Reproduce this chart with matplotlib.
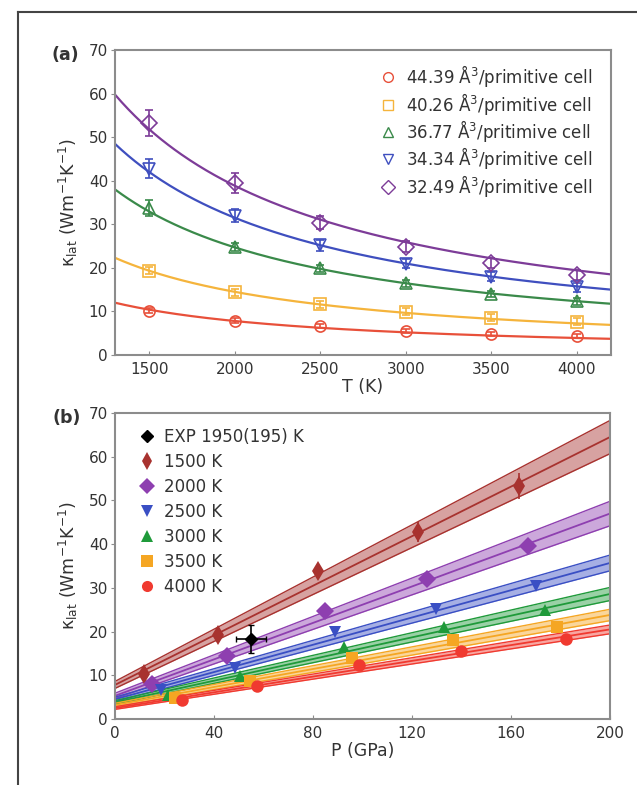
import numpy as np
import matplotlib
matplotlib.use("Agg")
import matplotlib.pyplot as plt
from matplotlib.lines import Line2D

plt.rcParams['font.family'] = ['DejaVu Sans']
plt.rcParams['mathtext.default'] = 'regular'

# ---------------- data: panel (a) ----------------
T = [1500, 2000, 2500, 3000, 3500, 4000]
vol_labels = ["44.39 Å$^3$/primitive cell", "40.26 Å$^3$/primitive cell",
              "36.77 Å$^3$/pritimive cell", "34.34 Å$^3$/primitive cell",
              "32.49 Å$^3$/primitive cell"]
kappa_v1 = [10.2, 7.9, 6.6, 5.5, 4.8, 4.3]
kappa_v2 = [19.3, 14.4, 11.7, 9.9, 8.6, 7.6]
kappa_v3 = [33.8, 24.8, 19.9, 16.5, 14.0, 12.3]
kappa_v4 = [42.8, 32.0, 25.2, 21.0, 18.0, 15.5]
kappa_v5 = [53.3, 39.5, 30.4, 24.9, 21.1, 18.4]
err_v1 = [0.5, 0.5, 0.5, 0.5, 0.5, 0.5]
err_v2 = [0.8, 0.8, 0.8, 0.8, 0.8, 0.8]
err_v3 = [1.8, 1.0, 0.8, 0.8, 0.8, 0.8]
err_v4 = [2.2, 1.5, 1.3, 1.0, 1.0, 1.0]
err_v5 = [3.0, 2.3, 1.5, 1.2, 1.2, 1.2]
# fitted kappa*T constants (kappa = A/T)
fit_A = [15600, 29000, 49400, 63000, 77700]

# ---------------- data: panel (b) ----------------
temp_labels = ["1500 K", "2000 K", "2500 K", "3000 K", "3500 K", "4000 K"]
P_1500 = [11.6, 41.7, 81.9, 122.3, 163.4]
P_2000 = [15.1, 45.1, 84.9, 126.2, 166.8]
P_2500 = [18.5, 48.6, 88.8, 129.7, 170.2]
P_3000 = [21.6, 50.7, 92.4, 132.8, 173.7]
P_3500 = [24.3, 54.4, 95.7, 136.7, 178.4]
P_4000 = [27.0, 57.4, 98.5, 139.8, 182.3]
# linear fits: kappa at P=0 and P=200, band half-widths at P=0 and P=200
fit_k0 = [7.8, 5.3, 4.5, 3.8, 3.2, 2.5]
fit_k200 = [64.5, 47.0, 35.7, 28.6, 23.8, 20.5]
band_0 = [0.8, 0.6, 0.5, 0.4, 0.4, 0.3]
band_200 = [3.8, 2.8, 1.8, 1.5, 1.3, 1.0]
exp_label = "EXP 1950(195) K"
exp_P, exp_Perr = 55.0, 6.0
exp_k, exp_kerr = 18.4, 3.2

# ---------------- styles ----------------
col_a = ['#e8503a', '#f5b43c', '#3a8a4a', '#3f4fbf', '#7d3c98']
mk_a = ['o', 's', '^', 'v', 'D']
col_b = ['#a8322f', '#8e3fb0', '#3a4fc4', '#1f9a3a', '#f5a623', '#f03a30']
mk_b = ['d', 'D', 'v', '^', 's', 'o']

W, H = 637, 785
fig = plt.figure(figsize=(W / 100, H / 100), dpi=100)

def style_axes(ax):
    for s in ax.spines.values():
        s.set_color('#8c8c8c')
        s.set_linewidth(1.5)
    ax.tick_params(axis='x', direction='in', length=3, color='#8c8c8c',
                   labelsize=11, labelcolor='#333333', pad=5)
    ax.tick_params(axis='y', direction='out', length=3, color='#8c8c8c',
                   labelsize=11, labelcolor='#333333', pad=2)

ylab = r'$\kappa_{lat}$ (Wm$^{-1}$K$^{-1}$)'

# ---- panel (a) ----
axa = fig.add_axes([115 / W, 1 - 355 / H, (611 - 115) / W, (355 - 50) / H])
kap_a = [kappa_v1, kappa_v2, kappa_v3, kappa_v4, kappa_v5]
err_a = [err_v1, err_v2, err_v3, err_v4, err_v5]
Tf = np.linspace(1300, 4200, 300)
for i in range(5):
    axa.plot(Tf, fit_A[i] / Tf, color=col_a[i], lw=1.6, zorder=2)
    axa.errorbar(T, kap_a[i], yerr=err_a[i], fmt=mk_a[i], mfc='none',
                 mec=col_a[i], ecolor=col_a[i], ms=8, mew=1.2, capsize=3,
                 elinewidth=1.2, label=vol_labels[i], zorder=3)
axa.set_xlim(1300, 4200)
axa.set_ylim(0, 70)
axa.set_xticks([1500, 2000, 2500, 3000, 3500, 4000])
axa.set_yticks(range(0, 71, 10))
axa.set_xlabel('T (K)', fontsize=12.5, color='#333333', labelpad=1)
axa.set_ylabel(ylab, fontsize=12.5, color='#333333', labelpad=6)
style_axes(axa)
handles = [Line2D([], [], ls='none', marker=mk_a[i], mfc='none', mec=col_a[i],
                  ms=7, mew=1.0) for i in range(5)]
axa.legend(handles, vol_labels, loc='upper right', bbox_to_anchor=(0.99, 1.0),
           frameon=False, fontsize=12, labelspacing=0.08, handletextpad=0.5,
           handlelength=1.2, borderaxespad=0.4, labelcolor='#333333')

# ---- panel (b) ----
axb = fig.add_axes([115 / W, 1 - 719 / H, (610 - 115) / W, (719 - 413) / H])
P_b = [P_1500, P_2000, P_2500, P_3000, P_3500, P_4000]
Pf = np.linspace(0, 200, 100)
for j in range(6):
    slope = (fit_k200[j] - fit_k0[j]) / 200.0
    line = fit_k0[j] + slope * Pf
    hw = band_0[j] + (band_200[j] - band_0[j]) * Pf / 200.0
    axb.fill_between(Pf, line - hw, line + hw, color=col_b[j], alpha=0.45,
                     lw=0, zorder=1)
    axb.plot(Pf, line - hw, color=col_b[j], lw=1.0, zorder=2)
    axb.plot(Pf, line + hw, color=col_b[j], lw=1.0, zorder=2)
    axb.plot(Pf, line, color=col_b[j], lw=1.3, zorder=2)
    kvals = [kap_a[v][j] for v in range(5)]
    errs = [err_a[v][j] for v in range(5)] if j == 0 else None
    axb.errorbar(P_b[j], kvals, yerr=errs, fmt=mk_b[j], color=col_b[j],
                 ms=9 if mk_b[j] != 'd' else 10, mew=0, elinewidth=1.2,
                 capsize=0, zorder=4)
axb.errorbar([exp_P], [exp_k], xerr=[exp_Perr], yerr=[exp_kerr], fmt='D',
             color='black', ms=6, elinewidth=1.2, capsize=2, zorder=5)
axb.set_xlim(0, 200)
axb.set_ylim(0, 70)
axb.set_xticks([0, 40, 80, 120, 160, 200])
axb.set_yticks(range(0, 71, 10))
axb.set_xlabel('P (GPa)', fontsize=12.5, color='#333333', labelpad=1)
axb.set_ylabel(ylab, fontsize=12.5, color='#333333', labelpad=6)
style_axes(axb)
hb = [Line2D([], [], ls='none', marker='D', color='black', ms=6)]
hb += [Line2D([], [], ls='none', marker=mk_b[j], color=col_b[j],
              ms=8 if mk_b[j] != 'd' else 9, mew=0) for j in range(6)]
axb.legend(hb, [exp_label] + temp_labels, loc='upper left',
           bbox_to_anchor=(0.015, 1.0), frameon=False, fontsize=12,
           labelspacing=0.42, handletextpad=0.4, handlelength=1.2,
           borderaxespad=0.5, labelcolor='#333333')

# panel labels
fig.text(52 / W, 1 - 55 / H, '(a)', fontsize=12.5, fontweight='bold',
         color='#333333', ha='left', va='center')
fig.text(53 / W, 1 - 418 / H, '(b)', fontsize=12.5, fontweight='bold',
         color='#333333', ha='left', va='center')

# outer frame (top and left edges)
fig.add_artist(Line2D([18 / W, 18 / W], [0, 1 - 12 / H], color='#444444',
                      lw=1.5, transform=fig.transFigure))
fig.add_artist(Line2D([18 / W, 1], [1 - 12 / H, 1 - 12 / H], color='#444444',
                      lw=1.5, transform=fig.transFigure))

fig.savefig('out.png', dpi=100)
